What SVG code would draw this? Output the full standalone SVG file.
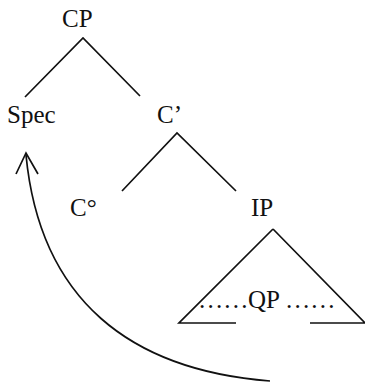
<svg xmlns="http://www.w3.org/2000/svg" width="365" height="385" viewBox="0 0 365 385">
<style>
text{font-family:"Liberation Serif","Times New Roman",serif;font-size:25px;fill:#111}
.l{stroke:#111;stroke-width:1.7;fill:none;stroke-linecap:butt}
</style>
<rect width="365" height="385" fill="#fff"/>
<g id="CP"><text x="62" y="27">CP</text></g>
<g id="Spec"><text x="7" y="123">Spec</text></g>
<g id="Cbar"><text x="157" y="123">C’</text></g>
<g id="C0"><text x="70" y="216">C°</text></g>
<g id="IP"><text x="251" y="216">IP</text></g>
<g id="QP">
<path class="l" d="M273,229 L179,323 L236,323 M310,323 L365,323 L273,229"/>
<text y="308"><tspan x="199" letter-spacing="2.2">......</tspan><tspan x="248">QP</tspan><tspan x="286" letter-spacing="2.2">......</tspan></text>
</g>
<g id="connectors">
<path class="l" d="M25,97 L83,38 L140,96"/>
<path class="l" d="M122,191 L177,133 L236,191"/>
<path class="l" d="M270,381 C130,370 40,300 26,155"/>
<path class="l" d="M16,174 L26,153 L38,174"/>
</g>
</svg>
